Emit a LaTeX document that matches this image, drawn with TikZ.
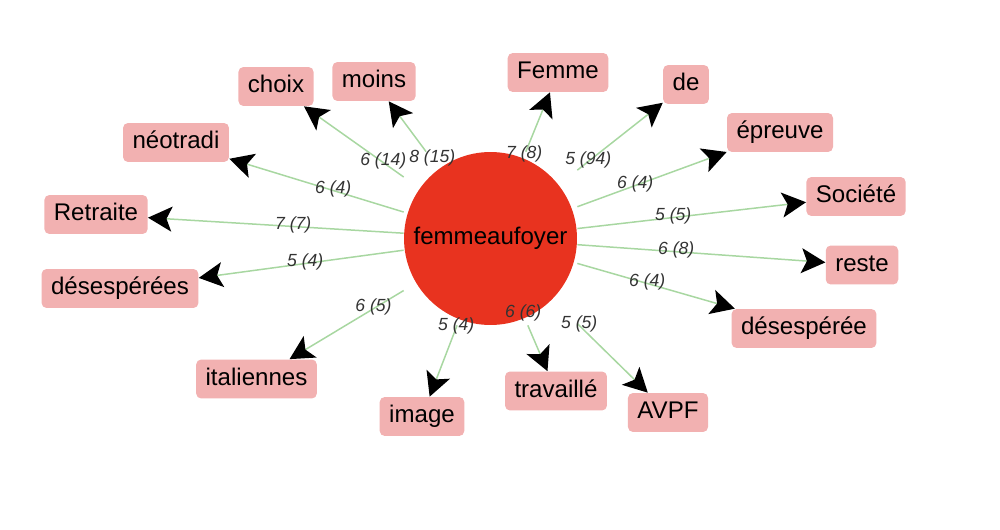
\documentclass[tikz,border=0pt]{standalone}
\usepackage{fontspec}
\setmainfont{Liberation Sans}
\usepackage{xcolor}
\usepackage{tikz}
\usetikzlibrary{arrows.meta,calc}

\definecolor{wordpink}{HTML}{F2B1B1}
\definecolor{hubred}{HTML}{E8331F}
\definecolor{linkgreen}{HTML}{A8D7A1}
\definecolor{weightgray}{HTML}{333333}

\begin{document}
\begin{tikzpicture}[x=0.02cm, y=-0.02cm,
    word/.style={fill=wordpink, rounded corners=0.1cm, minimum height=0.78cm, inner xsep=0.19cm, inner ysep=0pt, text height=0.72em, text depth=0pt, font=\fontsize{13.7}{16}\selectfont},
    hub/.style={rectangle, minimum size=3.46cm, inner sep=0pt, text height=0.72em, text depth=0pt, font=\fontsize{13.7}{16}\selectfont, path picture={\fill[hubred] (path picture bounding box.center) circle (1.73cm);}},
    link/.style={draw=linkgreen, line width=0.03cm, -{Stealth[length=0.48cm, width=0.5cm, inset=0.11cm, color=black]}},
    weight/.style={font=\fontsize{10}{12}\selectfont\itshape, text=weightgray, inner sep=0pt, text height=0.7em, text depth=0pt, yshift=0.07cm}]
    \useasboundingbox (0,0) rectangle (1000,530);

    \node[hub] (hub) at (490.5,238.5) {femmeaufoyer};

    \node[word] (choix) at (276,86.5) {choix};
    \node[word] (moins) at (374,81.5) {moins};
    \node[word] (neotradi) at (176,142.5) {néotradi};
    \node[word] (retraite) at (96,214.5) {Retraite};
    \node[word] (desesperees) at (120,288.5) {désespérées};
    \node[word] (italiennes) at (256.5,379) {italiennes};
    \node[word] (image) at (422,416.5) {image};
    \node[word] (travaille) at (556,391) {travaillé};
    \node[word] (avpf) at (668,412.5) {AVPF};
    \node[word] (desesperee) at (804,328.5) {désespérée};
    \node[word] (reste) at (862,265) {reste};
    \node[word] (societe) at (856,196.5) {Société};
    \node[word] (epreuve) at (780,132.5) {épreuve};
    \node[word] (de) at (686,84.5) {de};
    \node[word] (femme) at (558,72.5) {Femme};

    % links
    \draw[link] (hub) -- (choix);
    \draw[link] (hub) -- (moins);
    \draw[link] (hub) -- (neotradi);
    \draw[link] (hub) -- (retraite);
    \draw[link] (hub) -- (desesperees);
    \draw[link] (hub) -- (italiennes);
    \draw[link] (hub) -- (image);
    \draw[link] (hub) -- (travaille);
    \draw[link] (hub) -- (avpf);
    \draw[link] (hub) -- (desesperee);
    \draw[link] (hub) -- (reste);
    \draw[link] (hub) -- (societe);
    \draw[link] (hub) -- (epreuve);
    \draw[link] (hub) -- (de);
    \draw[link] (hub) -- (femme);

    % weights
    \node[weight] (w-choix) at ($(hub)!.5!(choix)$) {6 (14)};
    \node[weight] (w-moins) at ($(hub)!.5!(moins)$) {8 (15)};
    \node[weight] (w-neotradi) at ($(hub)!.5!(neotradi)$) {6 (4)};
    \node[weight] (w-retraite) at ($(hub)!.5!(retraite)$) {7 (7)};
    \node[weight] (w-desesperees) at ($(hub)!.5!(desesperees)$) {5 (4)};
    \node[weight] (w-italiennes) at ($(hub)!.5!(italiennes)$) {6 (5)};
    \node[weight] (w-image) at ($(hub)!.5!(image)$) {5 (4)};
    \node[weight] (w-travaille) at ($(hub)!.5!(travaille)$) {6 (6)};
    \node[weight] (w-avpf) at ($(hub)!.5!(avpf)$) {5 (5)};
    \node[weight] (w-desesperee) at ($(hub)!.5!(desesperee)$) {6 (4)};
    \node[weight] (w-reste) at ($(hub)!.5!(reste)$) {6 (8)};
    \node[weight] (w-societe) at ($(hub)!.5!(societe)$) {5 (5)};
    \node[weight] (w-epreuve) at ($(hub)!.5!(epreuve)$) {6 (4)};
    \node[weight] (w-de) at ($(hub)!.5!(de)$) {5 (94)};
    \node[weight] (w-femme) at ($(hub)!.5!(femme)$) {7 (8)};
\end{tikzpicture}
\end{document}
